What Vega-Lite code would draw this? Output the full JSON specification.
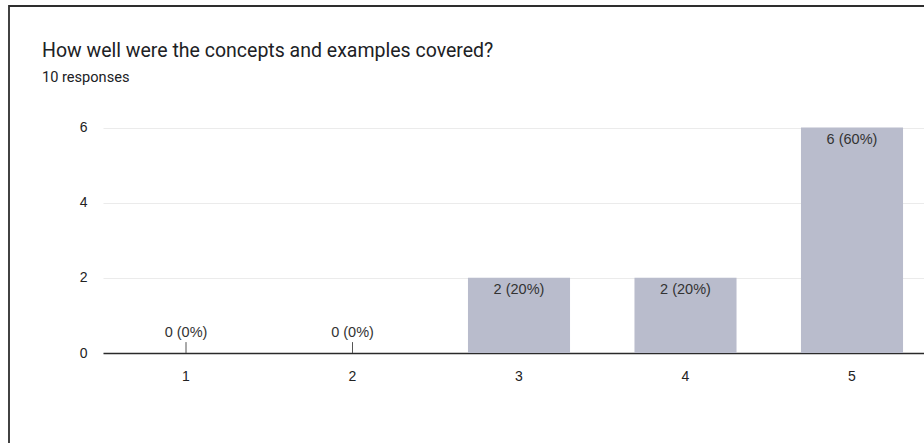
{
  "$schema": "https://vega.github.io/schema/vega-lite/v6.json",
  "autosize": {"type": "none"},
  "padding": {"left": 9, "top": 6, "right": 0, "bottom": 0},
  "width": 940,
  "height": 460,
  "background": "white",
  "config": {"view": {"stroke": "#2e2e2e", "strokeWidth": 1.8}},
  "title": {
    "text": "How well were the concepts and examples covered?",
    "subtitle": "10 responses",
    "anchor": "start",
    "frame": "group",
    "orient": "top",
    "offset": -80,
    "dx": 33,
    "font": "Roboto",
    "fontSize": 19.5,
    "fontWeight": "normal",
    "color": "#202124",
    "subtitleFont": "Roboto",
    "subtitleFontSize": 14.6,
    "subtitleColor": "#202124",
    "subtitlePadding": 9
  },
  "data": {
    "values": [
      {"rating": "1", "count": 0, "label": "0 (0%)"},
      {"rating": "2", "count": 0, "label": "0 (0%)"},
      {"rating": "3", "count": 2, "label": "2 (20%)"},
      {"rating": "4", "count": 2, "label": "2 (20%)"},
      {"rating": "5", "count": 6, "label": "6 (60%)"}
    ]
  },
  "encoding": {
    "x": {
      "field": "rating",
      "type": "nominal",
      "sort": null,
      "scale": {"range": [94, 926], "paddingInner": 0.387, "paddingOuter": 0.192},
      "axis": {
        "orient": "bottom",
        "offset": -113,
        "title": null,
        "labelAngle": 0,
        "domain": true,
        "domainColor": "#2a2a2a",
        "domainWidth": 1.5,
        "ticks": false,
        "labelPadding": 16,
        "labelFont": "Liberation Sans",
        "labelFontSize": 14,
        "labelColor": "#222222",
        "grid": false
      }
    }
  },
  "layer": [
    {
      "mark": {"type": "bar", "color": "#b9bccc"},
      "encoding": {
        "y": {
          "field": "count",
          "type": "quantitative",
          "scale": {"domain": [0, 6], "range": [347, 121.5], "nice": false},
          "axis": {
            "orient": "left",
            "offset": -93,
            "values": [0, 2, 4, 6],
            "format": "d",
            "title": null,
            "domain": false,
            "ticks": false,
            "labelPadding": 15,
            "labelFont": "Liberation Sans",
            "labelFontSize": 14,
            "labelColor": "#222222",
            "grid": true,
            "gridColor": "#ebebeb",
            "gridWidth": 1
          }
        }
      }
    },
    {
      "transform": [{"filter": "datum.count == 0"}],
      "mark": {"type": "rule", "color": "#555555", "strokeWidth": 1},
      "encoding": {
        "y": {"datum": 0, "type": "quantitative"},
        "y2": {"datum": 0.29}
      }
    },
    {
      "transform": [{"filter": "datum.count > 0"}],
      "mark": {"type": "text", "baseline": "alphabetic", "dy": 16, "font": "Liberation Sans", "fontSize": 14.5, "color": "#333333"},
      "encoding": {
        "y": {"field": "count", "type": "quantitative"},
        "text": {"field": "label"}
      }
    },
    {
      "transform": [{"filter": "datum.count == 0"}],
      "mark": {"type": "text", "baseline": "alphabetic", "dy": -16, "font": "Liberation Sans", "fontSize": 14.5, "color": "#333333"},
      "encoding": {
        "y": {"field": "count", "type": "quantitative"},
        "text": {"field": "label"}
      }
    }
  ]
}
